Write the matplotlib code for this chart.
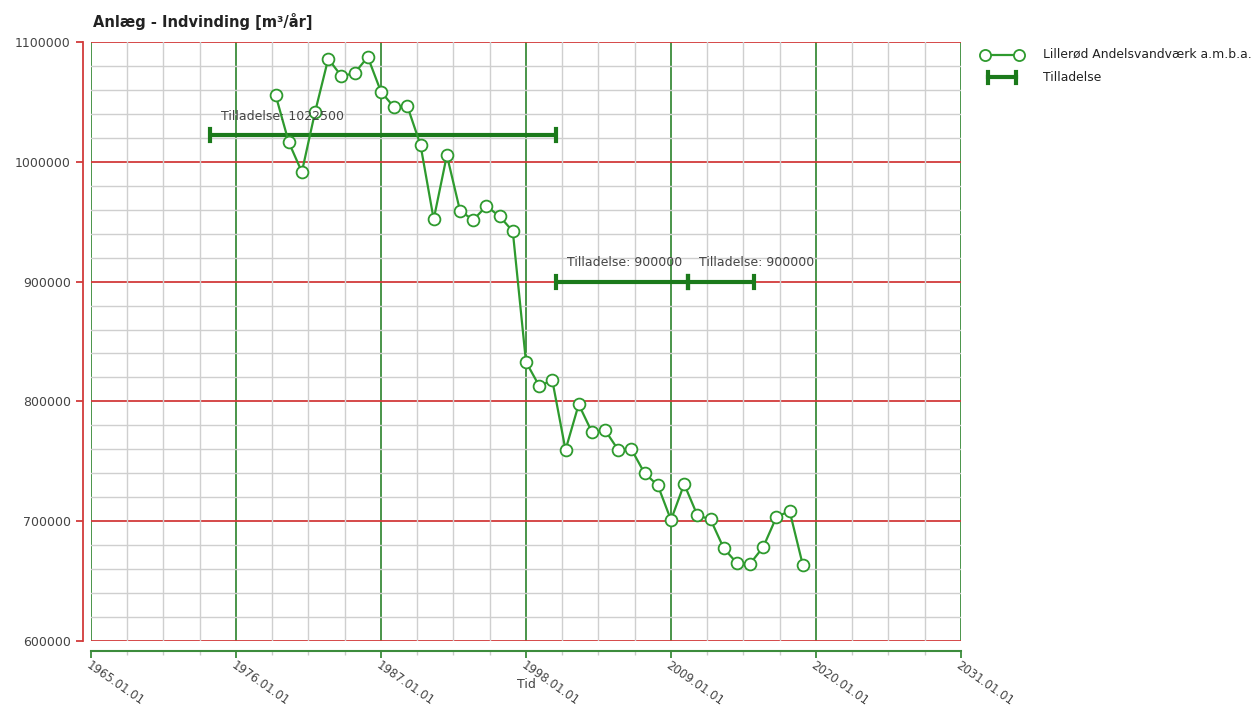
import numpy as np
import matplotlib.pyplot as plt
from matplotlib.ticker import MultipleLocator, FixedLocator

# data
years = list(range(1979, 2020))
values = [1056000, 1016500, 991500, 1041500, 1086000, 1071500, 1074000, 1087500,
          1058500, 1045500, 1046500, 1014000, 952000, 1005500, 959000, 951500,
          963000, 954500, 942000, 833000, 813000, 817500, 759500, 797500,
          774500, 776000, 759500, 760000, 740000, 730000, 701000, 731000,
          705000, 701500, 677500, 665000, 664500, 678500, 703500, 708500, 663500]

permit_start = [1974.0, 2000.3, 2010.3]
permit_end = [2000.3, 2010.3, 2015.3]
permit_value = [1022500, 900000, 900000]

xticks = [1965, 1976, 1987, 1998, 2009, 2020, 2031]
yticks = [600000, 700000, 800000, 900000, 1000000, 1100000]

green = '#2e9a2e'
dark_green = '#1b7a1b'
red = '#d23a3a'
vgreen = '#3c8c3c'
txt = '#444444'

fig = plt.figure(figsize=(12.58, 7.08), dpi=100)
ax = fig.add_axes([0.0723, 0.0946, 0.6916, 0.8461])

ax.set_xlim(1965, 2031)
ax.set_ylim(600000, 1100000)

# grid
ax.xaxis.set_major_locator(FixedLocator(xticks))
ax.xaxis.set_minor_locator(FixedLocator(np.arange(1965, 2031.1, 2.75)))
ax.yaxis.set_major_locator(FixedLocator(yticks))
ax.yaxis.set_minor_locator(MultipleLocator(20000))
ax.grid(which='minor', color='#cfcfcf', lw=1.0, zorder=0)
for x in xticks:
    ax.axvline(x, color=vgreen, lw=1.3, zorder=1)
for y in yticks:
    ax.axhline(y, color=red, lw=1.3, zorder=1)

# permits
for s, e, v in zip(permit_start, permit_end, permit_value):
    ax.plot([s, e], [v, v], color=dark_green, lw=3, zorder=3, solid_capstyle='butt')
    ax.plot([s, s], [v - 5000, v + 5000], color=dark_green, lw=3, zorder=3)
    ax.plot([e, e], [v - 5000, v + 5000], color=dark_green, lw=3, zorder=3)
    ax.annotate('Tilladelse: %d' % v, (s, v), xytext=(8, 11), textcoords='offset points',
                fontsize=9, color=txt, zorder=5)

# series
ax.plot(years, values, color=green, lw=1.6, marker='o', ms=8.5, mfc='white',
        mec=green, mew=1.3, zorder=4)

# axes styling
ax.spines['top'].set_visible(False)
ax.spines['right'].set_visible(False)
ax.spines['left'].set_position(('outward', 6))
ax.spines['bottom'].set_position(('outward', 7))
ax.spines['left'].set_color(red)
ax.spines['bottom'].set_color(vgreen)
ax.spines['left'].set_linewidth(1.3)
ax.spines['bottom'].set_linewidth(1.5)
ax.spines['left'].set_bounds(600000, 1100000)
ax.spines['bottom'].set_bounds(1965, 2031)
ax.tick_params(axis='x', which='major', colors=vgreen, length=5, width=1.3, labelcolor=txt,
               labelsize=8.5, pad=1)
ax.tick_params(axis='y', which='major', colors=red, length=5, width=1.3, labelcolor=txt, labelsize=9)
ax.tick_params(axis='x', which='minor', colors='#cccccc', length=3, width=1)
ax.tick_params(axis='y', which='minor', length=0)

ax.set_xticklabels(['%d.01.01' % x for x in xticks], rotation=-35, ha='left', va='top',
                   rotation_mode='anchor')
ax.set_yticklabels([str(y) for y in yticks])
ax.set_xlabel('Tid', fontsize=9, color=txt, labelpad=-22)

fig.text(0.074, 0.962, 'Anlæg - Indvinding [m³/år]', fontsize=10.5, fontweight='bold', color='#222222')

# legend
lx = 0.783
fig.lines.append(plt.Line2D([lx, lx + 0.027], [0.923, 0.923], transform=fig.transFigure, color=green,
                            lw=1.6, marker='o', ms=8, mfc='white', mec=green, mew=1.3))
fig.lines.append(plt.Line2D([lx + 0.002, lx + 0.025], [0.891, 0.891], transform=fig.transFigure,
                            color=dark_green, lw=3))
fig.lines.append(plt.Line2D([lx + 0.002, lx + 0.002], [0.883, 0.899], transform=fig.transFigure,
                            color=dark_green, lw=3))
fig.lines.append(plt.Line2D([lx + 0.025, lx + 0.025], [0.883, 0.899], transform=fig.transFigure,
                            color=dark_green, lw=3))
fig.text(0.829, 0.923, 'Lillerød Andelsvandværk a.m.b.a.', fontsize=8.9, va='center', color='#222222')
fig.text(0.829, 0.891, 'Tilladelse', fontsize=8.9, va='center', color='#222222')

fig.savefig('out.png', dpi=100)
